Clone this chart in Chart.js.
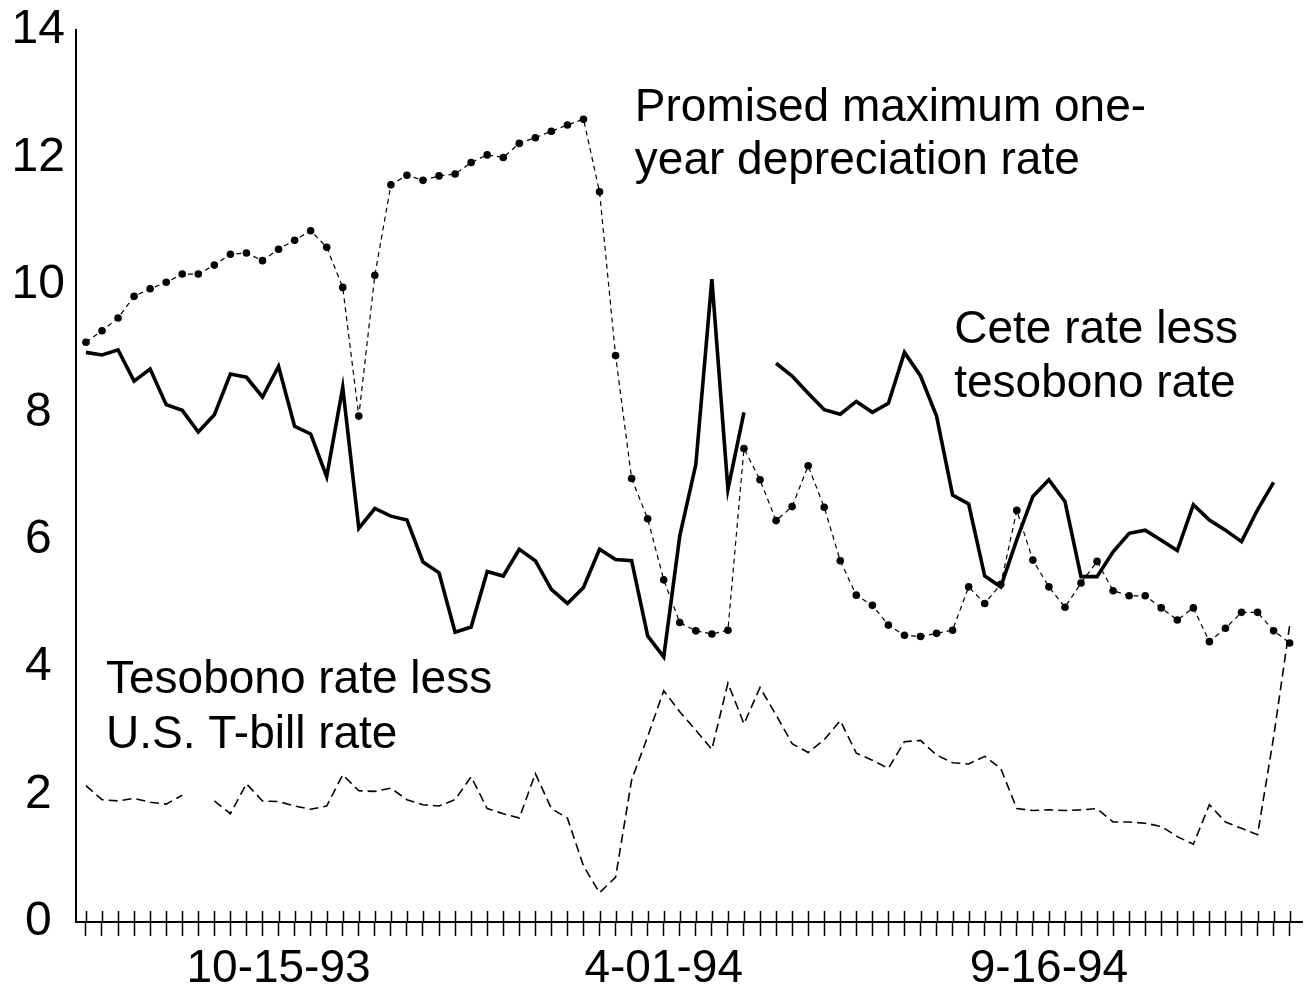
<!DOCTYPE html>
<html>
<head>
<meta charset="utf-8">
<script src="https://cdn.jsdelivr.net/npm/chart.js@4.4.1/dist/chart.umd.min.js"></script>
<style>
  html, body { margin: 0; padding: 0; background: #fff; }
  #wrap { width: 1311px; height: 990px; }
</style>
</head>
<body>
<div id="wrap"><canvas id="line"></canvas></div>
<script>
// weekly observations, 7-23-93 .. 12-30-94
const weeks = ['7-23-93','7-30-93','8-06-93','8-13-93','8-20-93','8-27-93','9-03-93','9-10-93','9-17-93','9-24-93',
    '10-01-93','10-08-93','10-15-93','10-22-93','10-29-93','11-05-93','11-12-93','11-19-93','11-26-93','12-03-93',
    '12-10-93','12-17-93','12-24-93','12-31-93','1-07-94','1-14-94','1-21-94','1-28-94','2-04-94','2-11-94',
    '2-18-94','2-25-94','3-04-94','3-11-94','3-18-94','3-25-94','4-01-94','4-08-94','4-15-94','4-22-94',
    '4-29-94','5-06-94','5-13-94','5-20-94','5-27-94','6-03-94','6-10-94','6-17-94','6-24-94','7-01-94',
    '7-08-94','7-15-94','7-22-94','7-29-94','8-05-94','8-12-94','8-19-94','8-26-94','9-02-94','9-09-94',
    '9-16-94','9-23-94','9-30-94','10-07-94','10-14-94','10-21-94','10-28-94','11-04-94','11-11-94','11-18-94',
    '11-25-94','12-02-94','12-09-94','12-16-94','12-23-94','12-30-94'];

const tickLabels = ['10-15-93', '4-01-94', '9-16-94'];
const yTicks = [0, 2, 4, 6, 8, 10, 12, 14];

const promised = [9.10, 9.28, 9.48, 9.82, 9.94, 10.04, 10.17, 10.17, 10.31, 10.48,
    10.50, 10.38, 10.56, 10.70, 10.85, 10.59, 9.96, 7.94, 10.15, 11.57,
    11.72, 11.64, 11.71, 11.74, 11.92, 12.04, 12.00, 12.22, 12.31, 12.41,
    12.51, 12.60, 11.46, 8.89, 6.96, 6.33, 5.37, 4.70, 4.57, 4.52,
    4.58, 7.43, 6.94, 6.30, 6.52, 7.16, 6.51, 5.67, 5.13, 4.97,
    4.66, 4.50, 4.48, 4.53, 4.58, 5.26, 5.00, 5.30, 6.46, 5.68,
    5.26, 4.94, 5.32, 5.66, 5.20, 5.12, 5.12, 4.93, 4.74, 4.93,
    4.40, 4.61, 4.86, 4.86, 4.57, 4.38];

const cete = [8.94, 8.90, 8.98, 8.49, 8.68, 8.12, 8.03, 7.69, 7.96, 8.60,
    8.55, 8.24, 8.72, 7.78, 7.66, 6.99, 8.39, 6.18, 6.49, 6.37,
    6.31, 5.65, 5.48, 4.55, 4.63, 5.50, 5.43, 5.85, 5.67, 5.22,
    5.00, 5.25, 5.85, 5.69, 5.67, 4.49, 4.16, 6.06, 7.18, 10.09,
    6.79, 8.00, null, 8.77, 8.57, 8.30, 8.04, 7.97, 8.17, 8.00,
    8.14, 8.94, 8.57, 7.94, 6.70, 6.56, 5.43, 5.26, 6.00, 6.68,
    6.94, 6.60, 5.42, 5.42, 5.81, 6.10, 6.15, 5.99, 5.83, 6.55,
    6.31, 6.15, 5.97, 6.47, 6.90, null];

const tesobono = [2.14, 1.92, 1.90, 1.94, 1.88, 1.85, 1.99, null, 1.90, 1.70,
    2.17, 1.90, 1.89, 1.82, 1.77, 1.82, 2.31, 2.06, 2.05, 2.10,
    1.92, 1.84, 1.82, 1.92, 2.28, 1.78, 1.70, 1.63, 2.33, 1.78,
    1.63, 0.88, 0.46, 0.70, 2.23, 2.91, 3.63, 3.30, 3.01, 2.71,
    3.75, 3.11, 3.68, 3.25, 2.80, 2.66, 2.86, 3.16, 2.65, 2.54,
    2.41, 2.83, 2.85, 2.62, 2.50, 2.48, 2.60, 2.41, 1.78, 1.75,
    1.76, 1.75, 1.76, 1.78, 1.57, 1.57, 1.55, 1.50, 1.34, 1.22,
    1.84, 1.57, 1.47, 1.37, 2.90, 4.65];

// text written on the plot, anchored in data units (week index, percent)
const notes = [
    { lines: ['Promised maximum one-', 'year depreciation rate'], x: 34.2, y: [12.57, 11.74] },
    { lines: ['Cete rate less', 'tesobono rate'], x: 54.1, y: [9.09, 8.24] },
    { lines: ['Tesobono rate less', 'U.S. T-bill rate'], x: 1.25, y: [3.60, 2.73] }
];

const FONT = '"Liberation Sans", Arial, Helvetica, sans-serif';

function points(values) {
    return values.map((v, i) => ({ x: i, y: v }));
}

const extras = {
    id: 'extras',
    afterDraw(chart) {
        const ctx = chart.ctx;
        const xs = chart.scales.x;
        const ys = chart.scales.y;
        const y0 = ys.getPixelForValue(0);
        ctx.save();
        // upper half of the crossing tick marks
        ctx.strokeStyle = '#000';
        ctx.lineWidth = 1.5;
        for (const t of xs.ticks) {
            const px = Math.round(xs.getPixelForValue(t.value)) + 0.5;
            ctx.beginPath();
            ctx.moveTo(px, y0);
            ctx.lineTo(px, y0 - 11);
            ctx.stroke();
        }
        ctx.fillStyle = '#000';
        ctx.font = '46px ' + FONT;
        ctx.textBaseline = 'alphabetic';
        ctx.textAlign = 'left';
        for (const note of notes) {
            note.lines.forEach((line, k) => {
                ctx.fillText(line, xs.getPixelForValue(note.x), ys.getPixelForValue(note.y[k]));
            });
        }
        ctx.restore();
    }
};

function chart() {
    const ctx = document.getElementById('line');

    const data = {
        datasets: [{
            label: 'Cete rate less tesobono rate',
            data: points(cete),
            borderColor: '#000',
            borderWidth: 3.6,
            pointRadius: 0,
            tension: 0,
            spanGaps: false
        }, {
            label: 'Promised maximum one-year depreciation rate',
            data: points(promised),
            borderColor: '#000',
            borderWidth: 1.2,
            borderDash: [5, 4],
            pointRadius: 3.8,
            pointBackgroundColor: '#000',
            pointBorderWidth: 0,
            tension: 0
        }, {
            label: 'Tesobono rate less U.S. T-bill rate',
            data: points(tesobono),
            borderColor: '#000',
            borderWidth: 1.6,
            borderDash: [9, 5],
            pointRadius: 0,
            tension: 0,
            spanGaps: false
        }]
    };

    new Chart(ctx, {
        type: 'line',
        data: data,
        plugins: [extras],
        options: {
            responsive: true,
            maintainAspectRatio: false,
            animation: false,
            devicePixelRatio: 1,
            layout: { padding: { top: 30, right: 9, bottom: 0, left: 0 } },
            plugins: {
                legend: { display: false },
                tooltip: { enabled: false }
            },
            scales: {
                x: {
                    type: 'linear',
                    min: -0.62,
                    max: 75.77,
                    afterBuildTicks: (s) => { s.ticks = weeks.map((w, i) => ({ value: i })); },
                    afterFit: (s) => { s.height = 68; },
                    grid: {
                        display: true,
                        drawOnChartArea: false,
                        drawTicks: true,
                        tickLength: 14,
                        tickWidth: 1.5,
                        tickColor: '#000'
                    },
                    border: { display: true, color: '#000', width: 2 },
                    ticks: {
                        autoSkip: false,
                        maxRotation: 0,
                        padding: 6,
                        color: '#000',
                        font: { family: FONT, size: 46 },
                        callback: (v) => tickLabels.includes(weeks[v]) ? weeks[v] : ''
                    }
                },
                y: {
                    min: 0,
                    max: 14,
                    afterBuildTicks: (s) => { s.ticks = yTicks.map(v => ({ value: v })); },
                    afterFit: (s) => { s.width = 76; },
                    grid: { display: false, drawTicks: false },
                    border: { display: true, color: '#000', width: 2 },
                    ticks: {
                        padding: 11,
                        crossAlign: 'center',
                        color: '#000',
                        font: { family: FONT, size: 48, lineHeight: 0.75 }
                    }
                }
            }
        }
    });
}

chart();
</script>
</body>
</html>
